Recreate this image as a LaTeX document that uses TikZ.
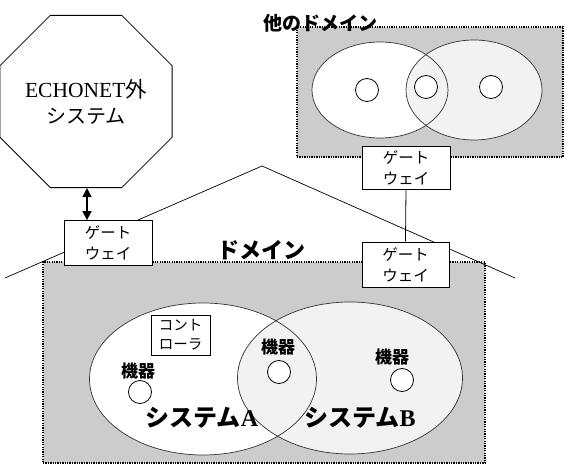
\documentclass[tikz,border=0pt]{standalone}
\usepackage{fontspec}
\setmainfont{Liberation Serif}
\newfontfamily\jp{Noto Sans CJK JP}
\usetikzlibrary{shapes.geometric,arrows.meta}
\begin{document}
\begin{tikzpicture}[x=1pt,y=-1pt,
  gw/.style={draw,fill=white,line width=0.8pt,minimum width=88pt,minimum height=45pt,inner sep=0pt,align=center,font=\jp\fontsize{15.5}{21}\selectfont},
  domrect/.style={fill=gray!40,draw,line width=1.4pt,dash pattern=on 1.3pt off 1.1pt,inner sep=0pt},
  sys/.style={ellipse,inner sep=0pt},
  sysline/.style={draw=black!80,line width=0.7pt},
  dev/.style={circle,draw,fill=white,line width=0.8pt,minimum size=23pt,inner sep=0pt},
  devlbl/.style={font=\jp\bfseries\fontsize{17}{18}\selectfont,inner sep=0pt},
  biglbl/.style={font=\jp\bfseries\fontsize{20}{22}\selectfont,inner sep=0pt},
  roof/.style={line width=0.7pt}]
\useasboundingbox (0,0) rectangle (565,465);

% domains
\node (dom) [domrect,minimum width=442pt,minimum height=201pt] at (264,362.5) {};
\node (odom) [domrect,minimum width=266pt,minimum height=130pt] at (430,92) {};

% systems in main domain
\node (sysA) [sys,fill=white,minimum width=227pt,minimum height=152pt] at (203,379) {};
\node (sysB) [sys,fill=gray!10,minimum width=225pt,minimum height=152pt] at (350,378) {};
\node [sys,sysline,minimum width=227pt,minimum height=152pt] at (sysA.center) {};
\node [sys,sysline,minimum width=225pt,minimum height=152pt] at (sysB.center) {};

% systems in other domain
\node (oA) [sys,fill=white,minimum width=136pt,minimum height=96pt] at (380,90) {};
\node (oB) [sys,fill=gray!10,minimum width=136pt,minimum height=100pt] at (474,90) {};
\node [sys,sysline,minimum width=136pt,minimum height=96pt] at (oA.center) {};
\node [sys,sysline,minimum width=136pt,minimum height=100pt] at (oB.center) {};

\node (od1) [dev] at (367,90) {};
\node (od2) [dev] at (426,87) {};
\node (od3) [dev] at (491,87) {};

% roof
\coordinate (rl) at (5,278);
\coordinate (apex) at (262,166);
\coordinate (rr) at (515,278);
\draw[roof] (rl) -- (apex) -- (rr);

% octagon
\node (ext) [regular polygon,regular polygon sides=8,draw,fill=white,line width=0.8pt,minimum size=153pt,inner sep=0pt,align=center,font=\fontsize{21.5}{26}\selectfont] at (86,101.5) {ECHONET{\jp 外}\\{\jp\fontsize{20}{26}\selectfont システム}};

% gateways
\node (gw1) [gw] at (108,243) {ゲート\\ウェイ};
\node (gw2) [gw,minimum width=87pt] at (405.5,264.5) {ゲート\\ウェイ};
\node (gw3) [gw,minimum height=43pt] at (406,167.5) {ゲート\\ウェイ};

\draw[line width=1.6pt,{Triangle[length=9pt,width=9pt]}-{Triangle[length=9pt,width=9pt]}] (ext.south -| 87,0) -- (gw1.north -| 87,0);
\draw[line width=0.8pt] (gw3.south) -- (gw2.north);

% labels
\node (ldom) [biglbl,font=\jp\bfseries\fontsize{22}{24}\selectfont] at (261,250) {ドメイン};
\node (lodom) [biglbl,font=\jp\bfseries\fontsize{19}{22}\selectfont] at (320,23) {他のドメイン};

% controller
\node (ctrl) [draw,fill=white,line width=0.8pt,minimum width=59pt,minimum height=40pt,inner sep=0pt,align=center,font=\jp\fontsize{14.5}{19}\selectfont] at (180.5,335) {コント\\ローラ};

% devices
\node (d1) [dev] at (140,392) {};
\node (d1l) [devlbl] at (138,371) {機器};
\node (d2) [dev] at (279,372) {};
\node (d2l) [devlbl] at (278,347) {機器};
\node (d3) [dev] at (402,380) {};
\node (d3l) [devlbl] at (392,357) {機器};

% system labels
\node (lA) [inner sep=0pt,font=\fontsize{24}{26}\selectfont\bfseries] at (202,418) {{\jp システム}A};
\node (lB) [inner sep=0pt,font=\fontsize{24}{26}\selectfont\bfseries] at (360,418) {{\jp システム}B};
\end{tikzpicture}
\end{document}
